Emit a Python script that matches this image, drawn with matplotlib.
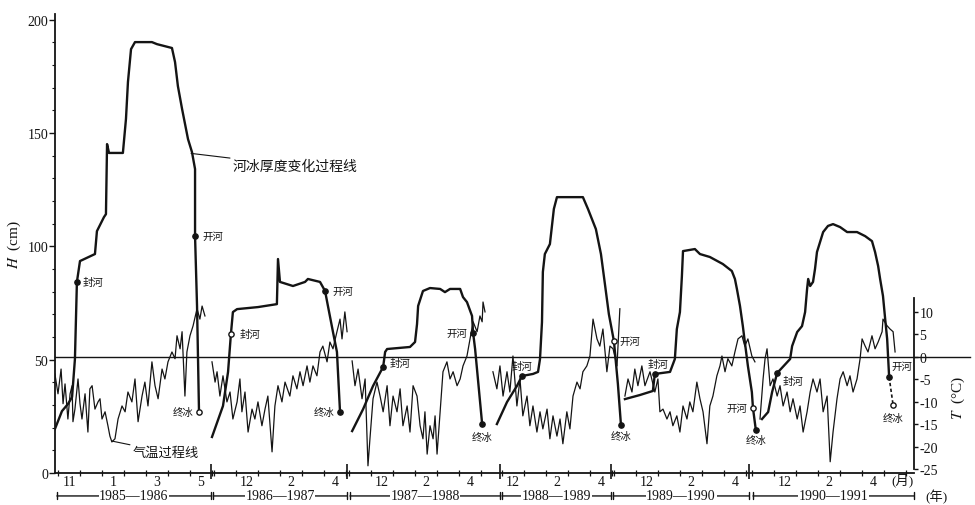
import matplotlib
matplotlib.use("Agg")
import matplotlib.pyplot as plt
import matplotlib.transforms as mtransforms

plt.rcParams['font.family'] = ['Liberation Serif', 'Noto Sans CJK SC']
plt.rcParams['axes.unicode_minus'] = False
plt.rcParams['mathtext.fontset'] = 'stix'

# ---- data -------------------------------------------------------------
seasons = ["1985—1986", "1986—1987", "1987—1988", "1988—1989", "1989—1990", "1990—1991"]
# position of 1 Nov of every winter on the squeezed time axis (months)
season_x0 = [0.0, 7.09, 13.23, 19.18, 25.27, 31.55]
# extent of the year brackets below the axis
bracket_a = [-0.05, 7.05, 13.27, 20.18, 25.23, 31.59]
bracket_b = [6.95, 13.14, 20.09, 25.14, 31.41, 38.91]

# ice thickness H (cm); x = months after 1 Nov
h1_m = [-0.14, 0.18, 0.45, 0.64, 0.77, 0.86, 1.0, 1.68, 1.77, 2.09, 2.18, 2.23, 2.32, 2.95, 3.09,
        3.18, 3.32, 3.5, 4.27, 4.5, 5.18, 5.32, 5.45, 5.64, 5.91, 6.09, 6.23, 6.23, 6.32, 6.41]
h1 = [19.4, 27.3, 30.4, 33.5, 50.3, 84.3, 93.5, 96.6, 106.7, 112.9, 114.2, 145.1, 141.2, 141.2, 156.2,
      172.5, 187.0, 190.1, 190.1, 189.2, 187.5, 181.3, 170.7, 160.6, 147.3, 141.6, 134.1, 104.5, 73.7, 26.9]
h2_m = [-0.09, 0.41, 0.64, 0.77, 0.86, 1.05, 2.0, 2.86, 2.91, 3.0, 3.59, 4.14, 4.27, 4.82, 5.05,
        5.18, 5.41, 5.59, 5.73]
h2 = [15.9, 29.6, 44.6, 61.3, 71.0, 72.3, 73.2, 74.5, 94.4, 84.3, 82.5, 84.3, 85.6, 84.3, 80.3,
      73.7, 62.2, 53.4, 26.9]
h3_m = [0.14, 0.64, 1.09, 1.55, 1.64, 1.73, 2.77, 3.0, 3.09, 3.14, 3.36, 3.68, 4.14, 4.36, 4.59,
        5.05, 5.18, 5.36, 5.59, 5.64, 5.73, 6.05]
h3 = [18.5, 28.2, 38.4, 46.8, 53.4, 54.7, 55.6, 57.8, 65.7, 73.7, 80.3, 81.6, 81.2, 79.8, 81.2,
      81.2, 77.6, 75.4, 69.3, 61.8, 54.7, 21.6]
h4_m = [0.77, 1.23, 1.68, 1.91, 2.41, 2.64, 2.73, 2.82, 2.86, 2.95, 3.18, 3.36, 3.5, 4.68, 4.91,
        5.27, 5.5, 5.68, 5.86, 6.09, 6.27, 6.41]
h4 = [21.6, 31.3, 38.4, 42.8, 43.7, 44.6, 50.3, 66.6, 88.7, 96.6, 101.0, 116.5, 121.7, 121.7, 116.5,
      107.6, 96.6, 83.4, 70.1, 58.2, 39.3, 21.2]
h5_m = [0.5, 1.18, 1.77, 1.86, 2.55, 2.77, 2.86, 3.0, 3.09, 3.14, 3.68, 3.91, 4.36, 4.95, 5.36,
        5.5, 5.59, 5.73, 5.86, 5.95, 6.09, 6.27, 6.32, 6.45]
h5 = [32.6, 34.4, 36.2, 43.7, 44.6, 50.3, 63.5, 71.0, 86.9, 97.9, 98.8, 96.6, 95.3, 92.2, 89.1,
      85.6, 81.2, 73.7, 64.8, 57.8, 47.2, 35.7, 28.7, 19.0]
h6_m = [0.45, 0.73, 0.91, 1.14, 1.73, 1.82, 2.05, 2.27, 2.41, 2.5, 2.55, 2.64, 2.77, 2.86, 2.95,
        3.09, 3.23, 3.45, 3.68, 4.0, 4.32, 4.77, 5.14, 5.45, 5.59, 5.73, 5.82, 5.95, 6.05, 6.14, 6.23]
h6 = [23.8, 26.9, 35.7, 44.1, 50.3, 56.0, 62.2, 64.8, 71.0, 81.2, 85.6, 82.5, 84.3, 90.0, 97.5,
      101.9, 106.3, 109.0, 109.8, 108.5, 106.3, 106.3, 104.5, 102.3, 97.5, 91.3, 85.6, 78.1, 67.9, 59.1, 42.3]

# air temperature T (°C)
t1_m = [-0.14, 0.0, 0.14, 0.23, 0.32, 0.45, 0.55, 0.64, 0.68, 0.77, 0.91, 1.0, 1.09, 1.23, 1.36,
        1.45, 1.55, 1.68, 1.82, 1.91, 2.0, 2.14, 2.27, 2.36, 2.45, 2.59, 2.73, 2.91, 3.05, 3.18,
        3.36, 3.5, 3.64, 3.82, 3.95, 4.09, 4.27, 4.41, 4.55, 4.73, 4.86, 5.0, 5.18, 5.32, 5.41,
        5.55, 5.64, 5.77, 5.86, 6.0, 6.14, 6.32, 6.45, 6.55, 6.68]
t1 = [-3.8, -8.2, -2.7, -10.4, -6.0, -13.8, -8.2, -6.4, -14.4, -11.6, -4.9, -10.4, -13.8, -8.2, -16.7,
      -7.1, -6.4, -11.6, -10.0, -9.3, -13.8, -12.2, -15.3, -17.6, -18.9, -18.2, -13.8, -10.9, -12.2, -7.8,
      -10.0, -4.9, -14.4, -8.7, -5.6, -10.9, -1.1, -6.4, -9.3, -2.7, -4.9, -1.1, 1.1, -0.4, 4.7,
      1.8, 5.6, -8.7, 1.1, 4.7, 6.9, 10.7, 8.4, 11.3, 9.1]
t2_m = [-0.09, 0.05, 0.14, 0.27, 0.41, 0.59, 0.73, 0.86, 1.05, 1.18, 1.27, 1.41, 1.55, 1.73, 1.86,
        2.0, 2.18, 2.32, 2.45, 2.64, 2.77, 2.91, 3.09, 3.23, 3.45, 3.59, 3.77, 3.91, 4.05, 4.23,
        4.36, 4.5, 4.68, 4.82, 4.95, 5.14, 5.27, 5.41, 5.59, 5.73, 5.82, 5.95, 6.05]
t2 = [-1.1, -5.6, -3.3, -8.7, -4.2, -10.0, -7.8, -13.8, -10.0, -4.9, -12.2, -7.8, -16.7, -11.6, -13.8,
      -10.0, -15.3, -11.6, -8.7, -21.1, -10.9, -6.4, -10.0, -5.6, -8.7, -4.2, -7.1, -3.3, -6.4, -2.0,
      -5.6, -2.0, -4.2, 1.1, 2.4, -1.1, 3.3, 1.8, 5.6, 8.4, 4.0, 10.0, 5.6]
t3_m = [0.14, 0.27, 0.41, 0.59, 0.73, 0.86, 0.95, 1.09, 1.27, 1.41, 1.55, 1.73, 1.86, 2.0, 2.18,
        2.32, 2.45, 2.64, 2.77, 2.91, 3.09, 3.23, 3.36, 3.45, 3.55, 3.68, 3.82, 3.91, 4.0, 4.14,
        4.27, 4.45, 4.59, 4.73, 4.91, 5.05, 5.18, 5.36, 5.5, 5.64, 5.82, 5.95, 6.05, 6.09, 6.18]
t3 = [-0.9, -6.4, -2.7, -9.3, -4.9, -24.2, -18.2, -9.3, -5.6, -8.7, -12.2, -6.4, -15.3, -8.7, -12.2,
      -7.1, -15.3, -10.9, -16.7, -6.4, -8.7, -15.3, -18.2, -12.2, -21.6, -15.3, -18.2, -13.1, -21.6, -12.2,
      -3.3, -1.1, -4.9, -3.3, -6.4, -4.9, -2.0, 0.2, 4.0, 7.8, 5.6, 9.1, 7.8, 12.2, 10.0]
t4_m = [0.59, 0.77, 0.91, 1.05, 1.23, 1.36, 1.5, 1.68, 1.82, 1.95, 2.14, 2.27, 2.41, 2.59, 2.73,
        2.86, 3.05, 3.18, 3.32, 3.5, 3.64, 3.77, 3.95, 4.09, 4.23, 4.41, 4.55, 4.68, 4.86, 5.0,
        5.14, 5.32, 5.45, 5.59, 5.77, 5.91, 6.05, 6.23, 6.36]
t4 = [-3.3, -7.1, -2.0, -8.7, -3.3, -7.8, 0.2, -10.9, -4.9, -13.1, -8.7, -15.3, -10.9, -16.7, -12.2,
      -16.0, -11.6, -18.2, -13.1, -17.6, -13.8, -19.3, -12.2, -16.0, -8.7, -5.6, -7.1, -3.3, -2.0, 0.2,
      8.4, 4.0, 2.4, 6.2, -3.3, 2.4, 1.8, -2.0, 10.7]
t5_m = [0.5, 0.64, 0.82, 0.95, 1.09, 1.27, 1.41, 1.64, 1.86, 2.0, 2.09, 2.23, 2.41, 2.55, 2.68,
        2.86, 3.0, 3.14, 3.32, 3.45, 3.59, 3.77, 3.91, 4.05, 4.23, 4.36, 4.5, 4.68, 4.82, 4.91,
        5.05, 5.18, 5.36, 5.5, 5.64, 5.82, 5.95, 6.09, 6.27, 6.41]
t5 = [-8.7, -4.9, -7.8, -2.7, -6.4, -2.0, -6.4, -3.3, -7.8, -4.9, -12.2, -11.6, -13.8, -12.2, -15.3,
      -13.1, -16.7, -10.9, -13.8, -10.0, -12.2, -5.6, -9.3, -12.2, -19.3, -10.9, -8.7, -4.2, -2.0, 0.2,
      -3.3, -0.4, -2.0, 1.1, 4.0, 4.7, 2.4, 4.0, 0.2, -1.1]
t6_m = [0.36, 0.5, 0.59, 0.68, 0.82, 0.95, 1.14, 1.27, 1.41, 1.59, 1.73, 1.86, 2.05, 2.18, 2.32,
        2.5, 2.64, 2.77, 2.95, 3.09, 3.23, 3.41, 3.55, 3.68, 3.86, 4.0, 4.14, 4.32, 4.45, 4.59,
        4.77, 4.91, 5.0, 5.14, 5.27, 5.45, 5.59, 5.73, 5.91, 5.95, 6.14, 6.27, 6.41, 6.5]
t6 = [-13.8, -4.9, -0.4, 1.8, -6.4, -4.9, -8.7, -6.4, -10.9, -7.8, -12.2, -9.3, -13.8, -10.9, -16.7,
      -12.2, -7.8, -4.9, -7.8, -4.9, -12.2, -8.7, -23.3, -16.7, -9.3, -4.9, -3.3, -6.4, -4.2, -7.8,
      -4.9, -0.4, 4.0, 2.4, 1.1, 4.7, 1.8, 3.3, 5.6, 8.4, 6.9, 6.2, 5.6, 1.1]

# freeze-up / break-up / end of ice events (months after 1 Nov, H in cm)
freeze_m = [0.86, 0.77, 1.55, 1.91, 1.86, 1.14]
freeze_h = [84.3, 61.3, 46.8, 42.8, 43.7, 44.1]
breakup_m = [6.23, 5.05, 5.64, 6.09, 6.32, 6.23]
breakup_h = [104.5, 80.3, 61.8, 58.2, 28.7, 42.3]
iceend_m = [6.41, 5.73, 6.05, 6.41, 6.45, 6.41]
iceend_h = [26.9, 26.9, 21.6, 21.2, 19.0, 30.0]

ice_m = [h1_m, h2_m, h3_m, h4_m, h5_m, h6_m]
ice_h = [h1, h2, h3, h4, h5, h6]
air_m = [t1_m, t2_m, t3_m, t4_m, t5_m, t6_m]
air_t = [t1, t2, t3, t4, t5, t6]

# ---- figure -----------------------------------------------------------
ink = '#141414'
fig = plt.figure(figsize=(9.75, 5.06), dpi=100)
ax = fig.add_axes([55 / 975, 32 / 506, 859 / 975, 459 / 506])
ax2 = ax.twinx()

for k in range(6):
    x0 = season_x0[k]
    ax.plot([x0 + m for m in ice_m[k]], ice_h[k], color=ink, lw=1.7, solid_joinstyle='round')
    ax2.plot([x0 + m for m in air_m[k]], air_t[k], color=ink, lw=0.9)

# last winter: dashed from break-up to end of ice
ax.plot([season_x0[5] + breakup_m[5], season_x0[5] + iceend_m[5]], [breakup_h[5], iceend_h[5]],
        color=ink, lw=1.2, ls=(0, (2, 1.5)))

freeze_fill = [True, False, True, True, True, True]
breakup_fill = [True, True, True, False, False, True]
iceend_fill = [False, True, True, True, True, False]
freeze_off = [(4, 0, 'left'), (6, 0, 'left'), (5, 3, 'left'), (0, 7, 'center'), (2, 7, 'center'), (4, -6, 'left')]
breakup_off = [(5, 0, 'left'), (5, 0, 'left'), (-4, 0, 'right'), (4, 0, 'left'), (-4, 0, 'right'), (2, 8, 'left')]
iceend_off = [(-4, 0, 'right'), (-4, 0, 'right'), (0, -9, 'center'), (0, -8, 'center'), (0, -7, 'center'), (0, -9, 'center')]

events = [("封河", freeze_m, freeze_h, freeze_fill, freeze_off),
          ("开河", breakup_m, breakup_h, breakup_fill, breakup_off),
          ("终冰", iceend_m, iceend_h, iceend_fill, iceend_off)]
for name, ms, hs, fills, offs in events:
    for k in range(6):
        x = season_x0[k] + ms[k]
        ax.plot(x, hs[k], 'o', ms=3.8, mec=ink, mew=1.0, mfc=ink if fills[k] else 'white', zorder=5)
        dx, dy, ha = offs[k]
        ax.annotate(name, (x, hs[k]), xytext=(dx, dy), textcoords='offset points',
                    ha=ha, va='center', fontsize=7.5, color=ink)

# curve names
ax.annotate("河冰厚度变化过程线", (season_x0[0] + 6.05, 141), xytext=(30, -9),
            textcoords='offset points', ha='left', va='center', fontsize=10, color=ink,
            arrowprops=dict(arrowstyle='-', color=ink, lw=0.8, shrinkA=0, shrinkB=0))
ax2.annotate("气温过程线", (season_x0[0] + 2.45, -18.7), xytext=(15, -8),
             textcoords='offset points', ha='left', va='center', fontsize=9.5, color=ink,
             arrowprops=dict(arrowstyle='-', color=ink, lw=0.8, shrinkA=0, shrinkB=0))

# zero line of temperature, running past the right axis
ax2.axhline(0, xmin=0, xmax=(970 - 55) / 859, color=ink, lw=1.0, clip_on=False)

# ---- axes -------------------------------------------------------------
ax.set_xlim(-0.136, 38.91)
ax.set_ylim(0, 202.5)
ax2.set_ylim(-25.8, 76.2)

for s in ['top', 'right']:
    ax.spines[s].set_visible(False)
for s in ['top', 'left', 'bottom']:
    ax2.spines[s].set_visible(False)
ax.spines['left'].set_linewidth(1.3)
ax.spines['bottom'].set_linewidth(1.3)
ax2.spines['right'].set_linewidth(1.3)
ax2.spines['right'].set_bounds(-25, 13)
for sp in ax.spines.values():
    sp.set_color(ink)
ax2.spines['right'].set_color(ink)

ax.set_yticks([0, 50, 100, 150, 200])
ax.set_yticks([v for v in range(10, 200, 10) if v % 50], minor=True)
ax.tick_params(axis='y', which='major', direction='out', length=4, width=1, labelsize=10, pad=1, colors=ink)
ax.tick_params(axis='y', which='minor', direction='out', length=2.5, width=0.8, colors=ink)

ax2.set_yticks([10, 5, 0, -5, -10, -15, -20, -25])
ax2.set_yticklabels(['10', '5', '0', '-5', '-10', '-15', '-20', '-25'])
ax2.tick_params(axis='y', direction='out', length=3, width=1, labelsize=10, pad=1, colors=ink)

month_pos, month_lab, bound_pos = [], [], []
for k in range(6):
    labs = ['11', '1', '3', '5'] if k == 0 else ['12', '2', '4']
    mids = [0.5, 2.5, 4.5, 6.5] if k == 0 else [1.5, 3.5, 5.5]
    month_pos += [season_x0[k] + m for m in mids]
    month_lab += labs
    first = 1 if k == 3 else 0
    last = 7 if k in (0, 5) else 6
    bound_pos += [season_x0[k] + m for m in range(first, last + 1)]
ax.set_xticks(month_pos)
ax.set_xticklabels(month_lab)
ax.set_xticks(bound_pos, minor=True)
ax.tick_params(axis='x', which='major', length=0, labelsize=10, pad=1.5, colors=ink)
ax.tick_params(axis='x', which='minor', direction='inout', length=4, width=0.9, colors=ink)

trans = mtransforms.blended_transform_factory(ax.transData, ax.transAxes)
ax.vlines(bracket_b[:5], -0.012, 0.02, transform=trans, color=ink, lw=1.2, clip_on=False)

for k in range(6):
    a, b = bracket_a[k], bracket_b[k]
    ax.annotate('', xy=(b, -0.05), xytext=(a, -0.05), xycoords=trans, textcoords=trans,
                arrowprops=dict(arrowstyle='|-|,widthA=0.25,widthB=0.25', color=ink, lw=1.0,
                                shrinkA=0, shrinkB=0))
    ax.text((a + b) / 2, -0.05, seasons[k], transform=trans, ha='center', va='center',
            fontsize=10, color=ink, bbox=dict(fc='white', ec='none', pad=0.5))

fig.text(903 / 975, 1 - 480 / 506, "(月)", ha='center', va='center', fontsize=9.5, color=ink)
fig.text(937 / 975, 1 - 497 / 506, "(年)", ha='center', va='center', fontsize=9.5, color=ink)
fig.text(14 / 975, 1 - 245 / 506, r"$H$  (cm)", rotation=90, ha='center', va='center', fontsize=11, color=ink)
fig.text(958 / 975, 1 - 398 / 506, r"$T$  (°C)", rotation=90, ha='center', va='center', fontsize=11, color=ink)

fig.savefig("out.png", dpi=100)
